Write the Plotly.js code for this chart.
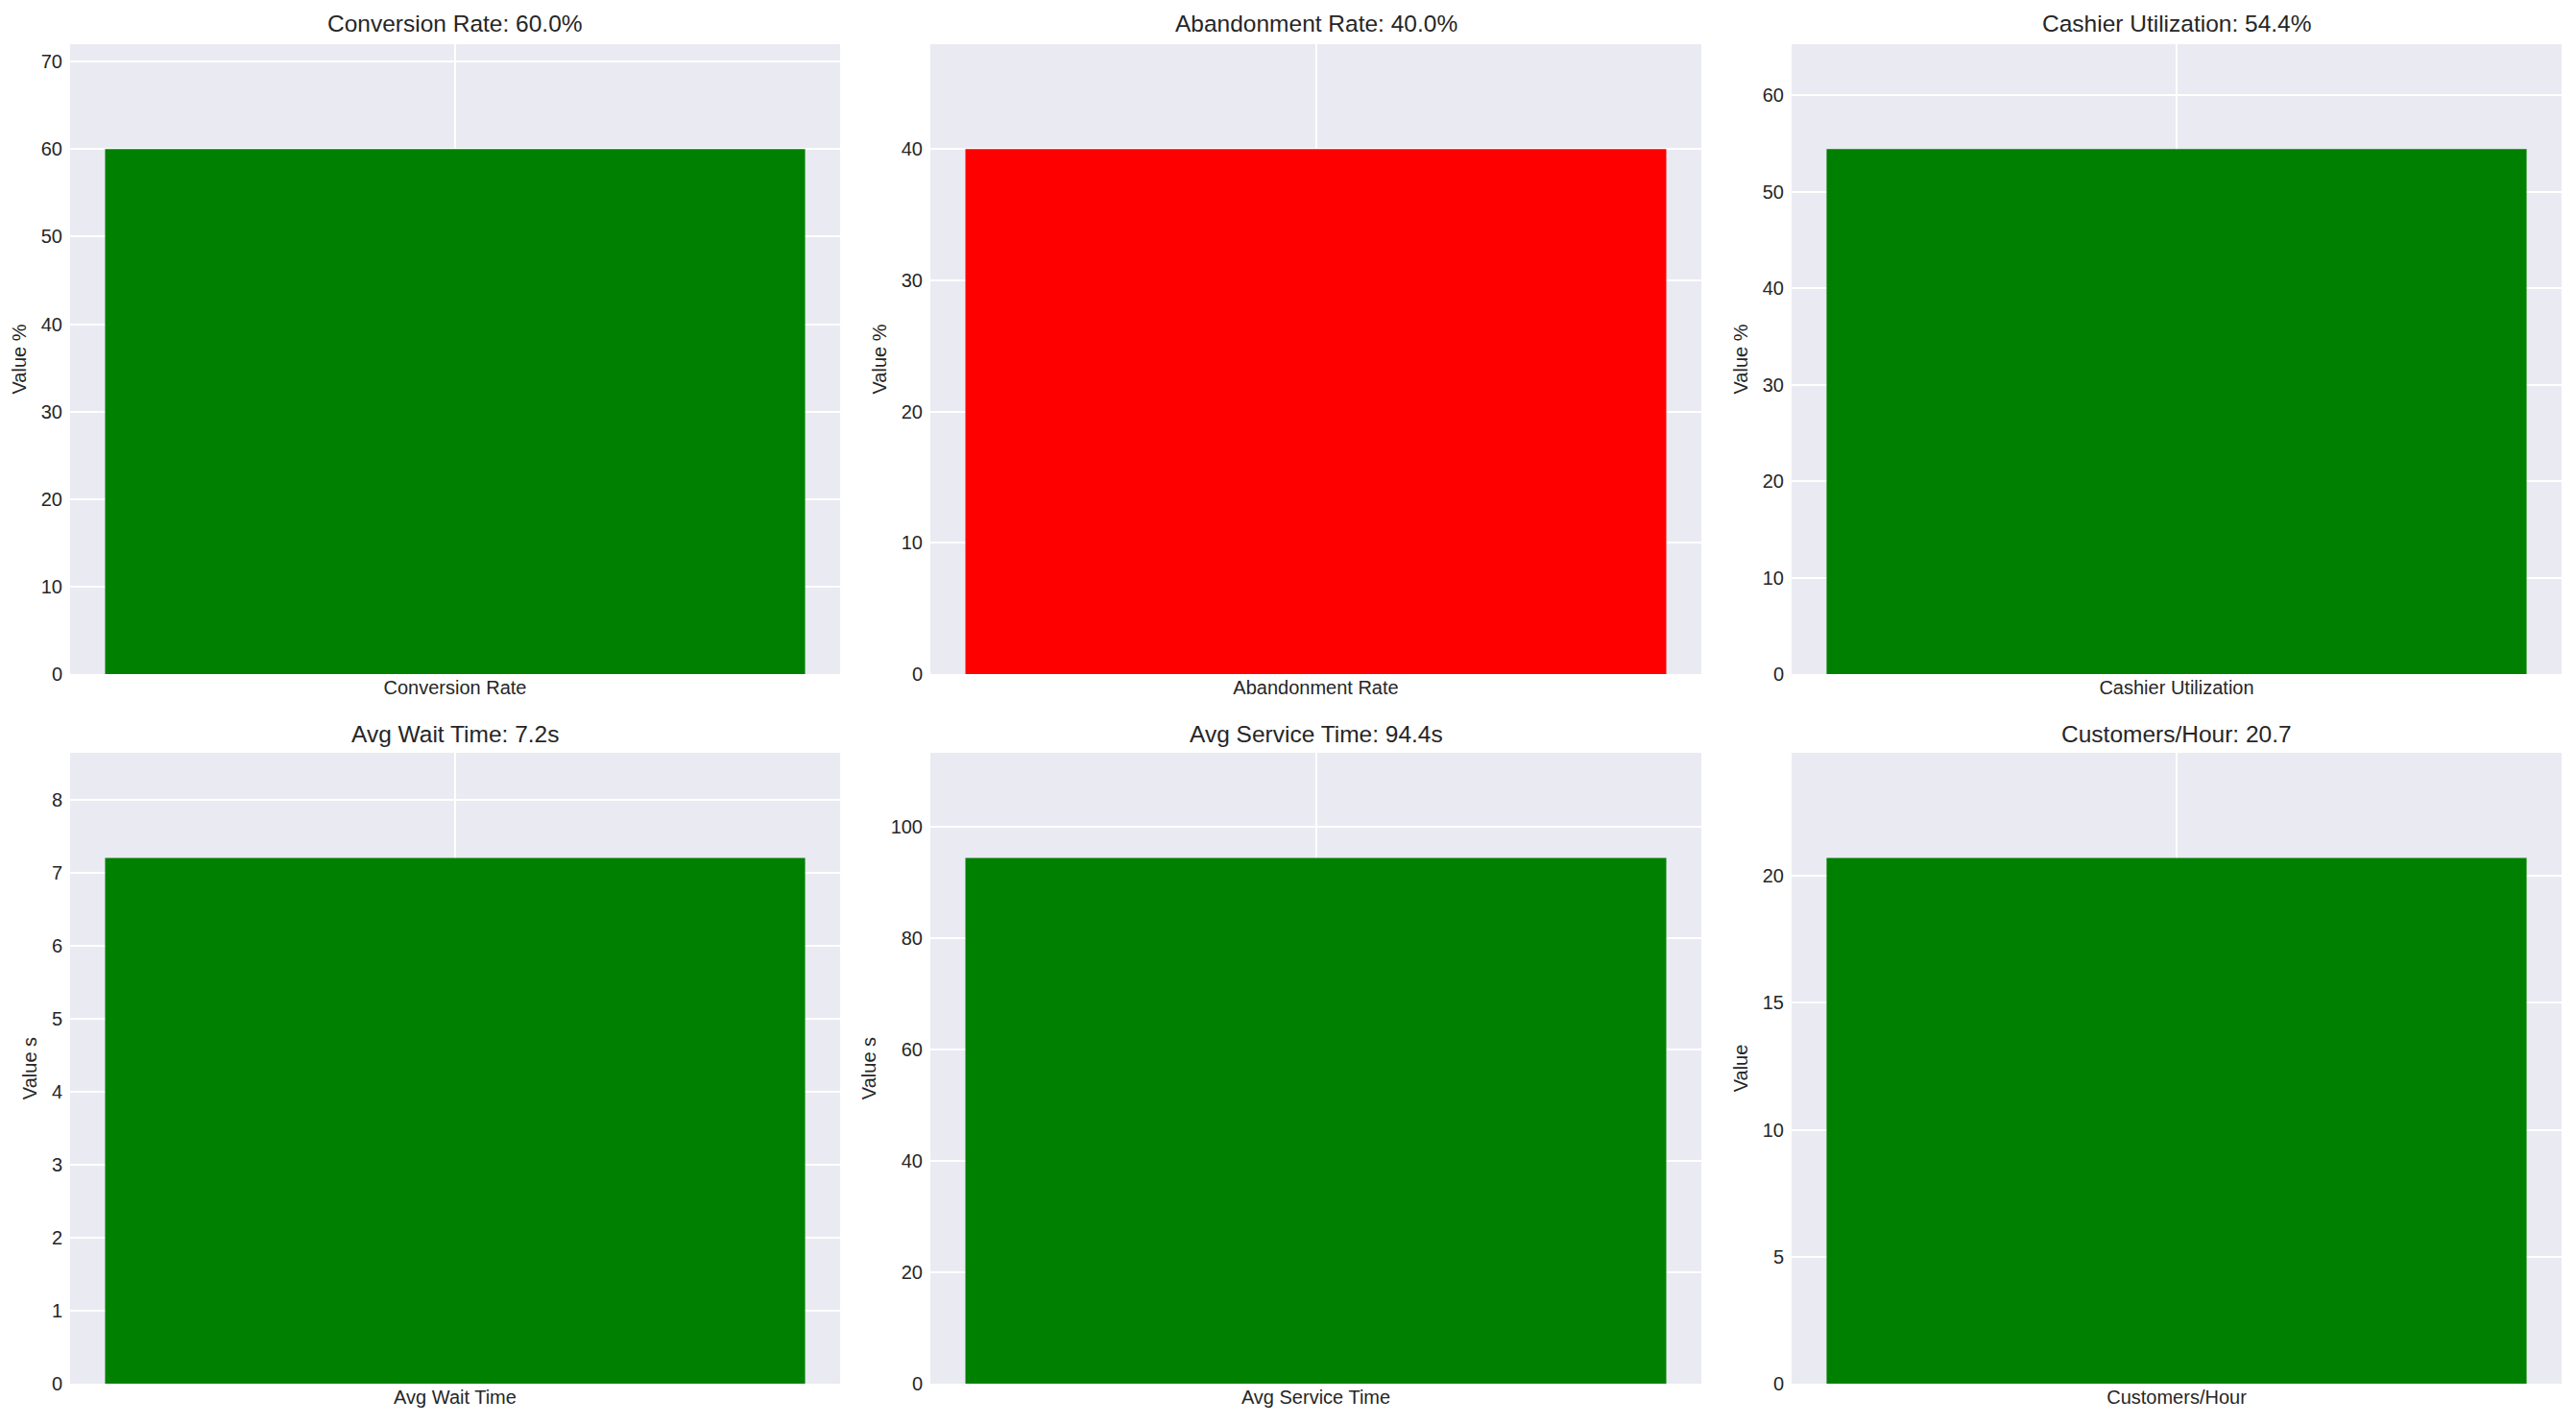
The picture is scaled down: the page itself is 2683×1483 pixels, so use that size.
<!DOCTYPE html>
<html>
<head>
<meta charset="utf-8">
<script src="https://cdn.plot.ly/plotly-3.0.1.min.js"></script>
<style>
html,body{margin:0;padding:0;background:#fff}
#chart{width:2683px;height:1483px}
</style>
</head>
<body>
<div id="chart"></div>
<script>
// kpi values
const metrics = ['Conversion Rate','Abandonment Rate','Cashier Utilization','Avg Wait Time','Avg Service Time','Customers/Hour'];
const values = [60.0, 40.0, 54.4, 7.2, 94.4, 20.7];
const units = ['%','%','%','s','s',''];
const yLabels = ['Value %','Value %','Value %','Value s','Value s','Value'];
const barColors = ['#008000','#ff0000','#008000','#008000','#008000','#008000'];
const tickSteps = [10,10,10,1,20,5];

const W = 2683, H = 1483;
const cols = [[73,875],[969,1772],[1866,2668]];
const rows = [[46,702],[784,1441]];
const titleY = [25,764];
const txt = '#262626';

const traces = [], annotations = [];
const layout = {
  width:W, height:H, margin:{l:0,r:0,t:0,b:0},
  paper_bgcolor:'#fff', plot_bgcolor:'#eaeaf2',
  font:{family:'"Liberation Sans", Arial, sans-serif', size:20, color:txt},
  showlegend:false, bargap:0.2
};

metrics.forEach((m,i)=>{
  const c = cols[i%3], r = rows[Math.floor(i/3)];
  const n = i===0 ? '' : String(i+1);
  traces.push({type:'bar', x:[m], y:[values[i]], width:[0.8], marker:{color:barColors[i], line:{width:0}},
    xaxis:'x'+n, yaxis:'y'+n, hovertemplate:'%{x}: %{y}'+units[i]+'<extra></extra>'});
  layout['xaxis'+n] = {domain:[c[0]/W, c[1]/W], anchor:'y'+n, type:'category', range:[-0.44,0.44],
    showgrid:true, gridcolor:'#fff', gridwidth:2, zeroline:false, showline:false, ticks:'',
    tickfont:{size:20,color:txt}, fixedrange:true};
  layout['yaxis'+n] = {domain:[1-r[1]/H, 1-r[0]/H], anchor:'x'+n, range:[0, values[i]*1.2],
    tick0:0, dtick:tickSteps[i], showgrid:true, gridcolor:'#fff', gridwidth:2, zeroline:false,
    showline:false, ticks:'', ticklabelstandoff:7, tickfont:{size:20,color:txt},
    title:{text:yLabels[i], font:{size:20,color:txt}, standoff:9}, fixedrange:true};
  annotations.push({xref:'paper', yref:'paper', x:(c[0]+c[1])/2/W, y:1-titleY[Math.floor(i/3)]/H,
    xanchor:'center', yanchor:'middle', showarrow:false,
    text:`${m}: ${values[i].toFixed(1)}${units[i]}`, font:{size:24.5,color:txt}});
});
layout.annotations = annotations;

Plotly.newPlot('chart', traces, layout, {displayModeBar:false, staticPlot:true});
</script>
</body>
</html>
